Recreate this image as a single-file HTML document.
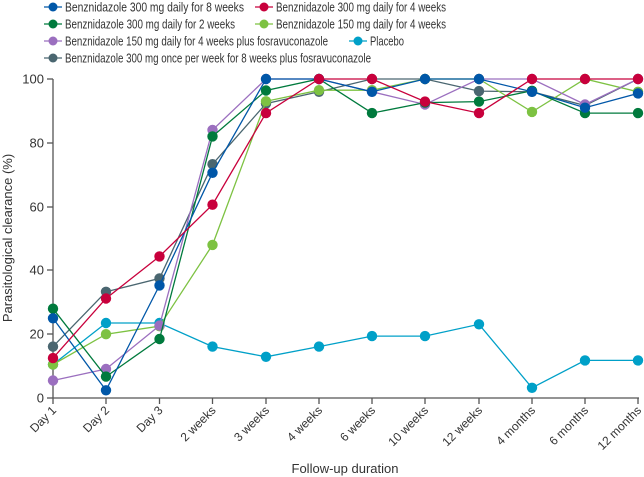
<!DOCTYPE html>
<html><head><meta charset="utf-8"><style>
html,body{margin:0;padding:0;background:#fff;}
svg{display:block;font-family:"Liberation Sans",sans-serif;}
text{fill:#333;}
</style></head><body>
<svg id="s" width="644" height="477" viewBox="0 0 644 477" xmlns="http://www.w3.org/2000/svg">
<g font-size="13">
<line x1="44" y1="7" x2="62" y2="7" stroke="#0057a8" stroke-width="1.3"/><circle cx="53" cy="7" r="4.5" fill="#0057a8"/>
<text x="65" y="11.5" textLength="179" lengthAdjust="spacingAndGlyphs">Benznidazole 300 mg daily for 8 weeks</text>
<line x1="255" y1="7" x2="273" y2="7" stroke="#c8003c" stroke-width="1.3"/><circle cx="264" cy="7" r="4.5" fill="#c8003c"/>
<text x="276" y="11.5" textLength="170" lengthAdjust="spacingAndGlyphs">Benznidazole 300 mg daily for 4 weeks</text>
<line x1="44" y1="24" x2="62" y2="24" stroke="#007a3d" stroke-width="1.3"/><circle cx="53" cy="24" r="4.5" fill="#007a3d"/>
<text x="65" y="28.5" textLength="170" lengthAdjust="spacingAndGlyphs">Benznidazole 300 mg daily for 2 weeks</text>
<line x1="255" y1="24" x2="273" y2="24" stroke="#7dc242" stroke-width="1.3"/><circle cx="264" cy="24" r="4.5" fill="#7dc242"/>
<text x="276" y="28.5" textLength="170" lengthAdjust="spacingAndGlyphs">Benznidazole 150 mg daily for 4 weeks</text>
<line x1="44" y1="41" x2="62" y2="41" stroke="#9b6fbf" stroke-width="1.3"/><circle cx="53" cy="41" r="4.5" fill="#9b6fbf"/>
<text x="65" y="45.5" textLength="263" lengthAdjust="spacingAndGlyphs">Benznidazole 150 mg daily for 4 weeks plus fosravuconazole</text>
<line x1="349" y1="41" x2="367" y2="41" stroke="#00a0c8" stroke-width="1.3"/><circle cx="358" cy="41" r="4.5" fill="#00a0c8"/>
<text x="370" y="45.5" textLength="34" lengthAdjust="spacingAndGlyphs">Placebo</text>
<line x1="44" y1="58" x2="62" y2="58" stroke="#4a6670" stroke-width="1.3"/><circle cx="53" cy="58" r="4.5" fill="#4a6670"/>
<text x="65" y="62.5" textLength="306" lengthAdjust="spacingAndGlyphs">Benznidazole 300 mg once per week for 8 weeks plus fosravuconazole</text>
</g>
<g stroke="#555" stroke-width="1.3" fill="none">
<line x1="53" y1="79" x2="53" y2="398"/>
<line x1="53" y1="398" x2="639" y2="398"/>
<line x1="47" y1="79" x2="53" y2="79"/><line x1="47" y1="143" x2="53" y2="143"/><line x1="47" y1="207" x2="53" y2="207"/><line x1="47" y1="270" x2="53" y2="270"/><line x1="47" y1="334" x2="53" y2="334"/><line x1="47" y1="398" x2="53" y2="398"/>
<line x1="53" y1="398" x2="53" y2="404"/><line x1="106" y1="398" x2="106" y2="404"/><line x1="159.5" y1="398" x2="159.5" y2="404"/><line x1="212.5" y1="398" x2="212.5" y2="404"/><line x1="266" y1="398" x2="266" y2="404"/><line x1="319" y1="398" x2="319" y2="404"/><line x1="372" y1="398" x2="372" y2="404"/><line x1="425" y1="398" x2="425" y2="404"/><line x1="479" y1="398" x2="479" y2="404"/><line x1="532" y1="398" x2="532" y2="404"/><line x1="585" y1="398" x2="585" y2="404"/><line x1="638" y1="398" x2="638" y2="404"/>
</g>
<g font-size="13" text-anchor="end">
<text x="44" y="83.5">100</text><text x="44" y="147.5">80</text><text x="44" y="211.5">60</text><text x="44" y="274.5">40</text><text x="44" y="338.5">20</text><text x="44" y="402.5">0</text>
</g>
<g font-size="12" text-anchor="end">
<text transform="translate(57,411) rotate(-45)">Day 1</text>
<text transform="translate(110,411) rotate(-45)">Day 2</text>
<text transform="translate(163.5,411) rotate(-45)">Day 3</text>
<text transform="translate(216.5,411) rotate(-45)">2 weeks</text>
<text transform="translate(270,411) rotate(-45)">3 weeks</text>
<text transform="translate(323,411) rotate(-45)">4 weeks</text>
<text transform="translate(376,411) rotate(-45)">6 weeks</text>
<text transform="translate(429,411) rotate(-45)">10 weeks</text>
<text transform="translate(483,411) rotate(-45)">12 weeks</text>
<text transform="translate(536,411) rotate(-45)">4 months</text>
<text transform="translate(589,411) rotate(-45)">6 months</text>
<text transform="translate(642,411) rotate(-45)">12 months</text>
</g>
<text x="345" y="473" font-size="13" text-anchor="middle">Follow-up duration</text>
<text transform="translate(12,238) rotate(-90)" font-size="13" text-anchor="middle">Parasitological clearance (%)</text>
<g id="series"></g>
</svg>
<script>
var xs=[53,106,159.5,212.5,266,319,372,425,479,532,585,638];
function Y(v){return 398-v*3.19;}
var S=[
["#00a0c8",[10.5,23.5,23.5,16.1,12.9,16.1,19.4,19.4,23.1,3.2,11.8,11.8]],
["#4a6670",[16.1,33.3,37.5,73.3,92.3,96,100,100,96.2,96,91.7,100]],
["#7dc242",[10.5,20,22.5,48,93,96.5,96.5,100,100,89.7,100,96]],
["#9b6fbf",[5.5,9.1,22.7,84,100,100,96,92,100,100,92,100]],
["#007a3d",[28,6.7,18.5,82,96.4,100,89.3,92.6,92.9,96.3,89.3,89.3]],
["#0057a8",[25,2.4,35.3,70.6,100,100,96,100,100,96,91,95.5]],
["#c8003c",[12.5,31.2,44.4,60.6,89.3,100,100,92.9,89.3,100,100,100]]];
var g=document.getElementById("series"),h="";
S.forEach(function(s){var p=s[1].map(function(v,i){return xs[i]+","+Y(v).toFixed(1);}).join(" ");
h+='<polyline points="'+p+'" fill="none" stroke="'+s[0]+'" stroke-width="1.3"/>';
s[1].forEach(function(v,i){h+='<circle cx="'+xs[i]+'" cy="'+Y(v).toFixed(1)+'" r="5.2" fill="'+s[0]+'"/>';});});
g.innerHTML=h;
</script>
</body></html>
